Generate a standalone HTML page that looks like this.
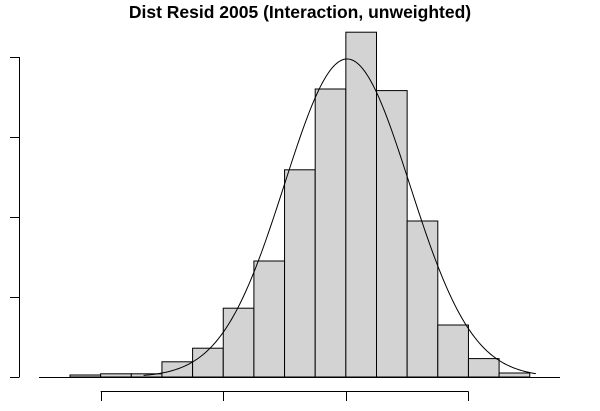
<!DOCTYPE html>
<html><head><meta charset="utf-8"><style>
body{margin:0;background:#fff;width:600px;height:411px;overflow:hidden}
svg{display:block}
</style></head><body>
<svg id="chart" width="600" height="411" xmlns="http://www.w3.org/2000/svg">
<text x="300" y="18" text-anchor="middle" font-family="Liberation Sans, sans-serif" font-weight="bold" font-size="17.5">Dist Resid 2005 (Interaction, unweighted)</text>
<g id="bars"></g>
<g id="axes"></g>
<path id="curve" fill="none" stroke="#000" stroke-width="1"/>
</svg>
<script>
const binEdgeStart = -7;
const binWidth = 1;
const counts = [2.5, 4, 4, 19, 36, 86, 145, 259, 360, 431, 358, 195, 65, 23, 5];
const xTicks = [-6, -2, 2, 6];
const yTicks = [0, 100, 200, 300, 400];
const curveMean = [2.04];
const curveSd = [2.04];
const curveN = [2033];
const curveRange = [-4.6, 8.2];

const ns = "http://www.w3.org/2000/svg";
const xS = v => 70 + (v - binEdgeStart) * 30.65;
const yS = v => 377 - v * 0.8;
const svg = document.getElementById('chart');
const bars = document.getElementById('bars');
const axes = document.getElementById('axes');
function mk(tag, attrs, parent){const e=document.createElementNS(ns,tag);for(const k in attrs)e.setAttribute(k,attrs[k]);parent.appendChild(e);return e;}

counts.forEach((c,i)=>{
  const x0=xS(binEdgeStart+i*binWidth), x1=xS(binEdgeStart+(i+1)*binWidth);
  const r=mk('rect',{x:x0,y:yS(c),width:x1-x0,height:yS(0)-yS(c),fill:'#d3d3d3',stroke:'#000','stroke-width':1},bars);
  
  
});
const bl=mk('line',{x1:39,x2:560,y1:377.5,y2:377.5,stroke:'#000','stroke-width':1},axes);


const ya=mk('line',{x1:19.5,x2:19.5,y1:yS(yTicks[0]),y2:yS(yTicks[yTicks.length-1]),stroke:'#000','stroke-width':1},axes);


yTicks.forEach(t=>{
  const l=mk('line',{x1:10,x2:19.5,y1:Math.round(yS(t))+0.5,y2:Math.round(yS(t))+0.5,stroke:'#000','stroke-width':1},axes);
  
  
});
const xa=mk('line',{x1:xS(xTicks[0]),x2:xS(xTicks[xTicks.length-1]),y1:391.5,y2:391.5,stroke:'#000','stroke-width':1},axes);


xTicks.forEach(t=>{
  const l=mk('line',{x1:Math.round(xS(t))+0.5,x2:Math.round(xS(t))+0.5,y1:391.5,y2:401,stroke:'#000','stroke-width':1},axes);
  
  
});
let d='';
const m=curveMean[0], s=curveSd[0], n=curveN[0];
for(let k=0;k<=200;k++){
  const v=curveRange[0]+(curveRange[1]-curveRange[0])*k/200;
  const dens=n*binWidth*Math.exp(-0.5*((v-m)/s)**2)/(s*Math.sqrt(2*Math.PI));
  d+=(k?'L':'M')+xS(v).toFixed(2)+','+yS(dens).toFixed(2);
}
document.getElementById('curve').setAttribute('d',d);
svg.appendChild(document.getElementById('curve'));
</script>
</body></html>
